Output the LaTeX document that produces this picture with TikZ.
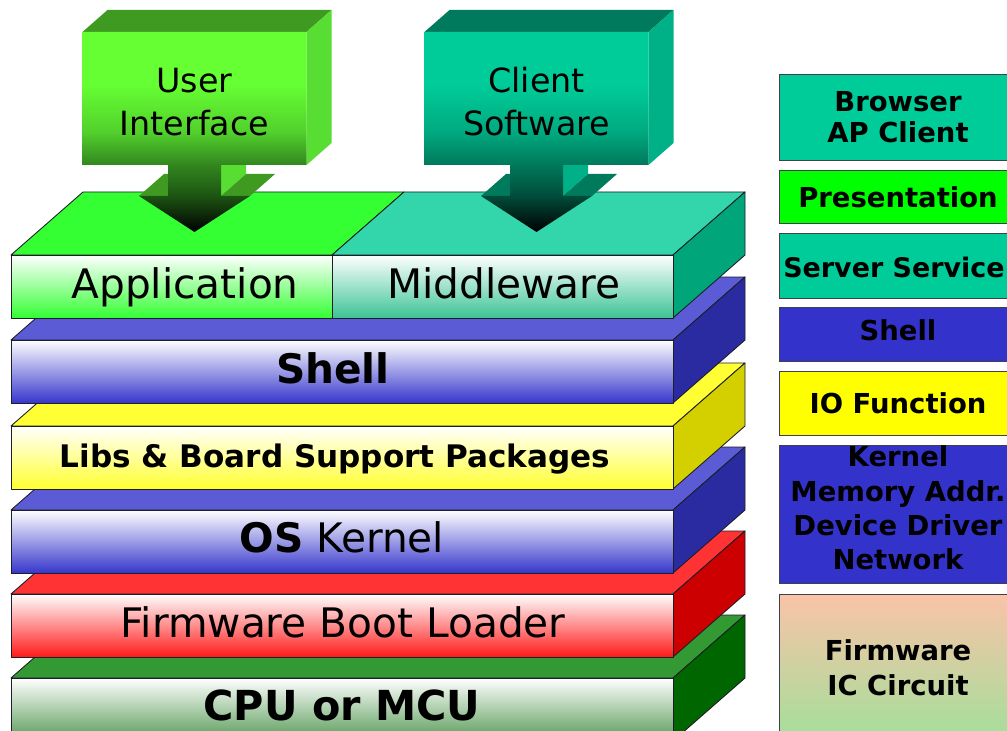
\documentclass[tikz,border=0pt]{standalone}
\usepackage{fontspec}
\setmainfont{DejaVu Sans}
\usetikzlibrary{calc}

% slab colours: top face, side face, front gradient end
\definecolor{edgecol}{HTML}{1E1E28}
\definecolor{appG}{HTML}{33FF33}
\definecolor{mwTop}{HTML}{33D6AA}
\definecolor{mwSide}{HTML}{00A67A}
\definecolor{mwFront}{HTML}{3CC495}
\definecolor{blTop}{HTML}{5B5BD6}
\definecolor{blSide}{HTML}{2B2BA1}
\definecolor{blFront}{HTML}{3636CC}
\definecolor{ylTop}{HTML}{FFFF33}
\definecolor{ylSide}{HTML}{D4D000}
\definecolor{ylFront}{HTML}{FFFF30}
\definecolor{rdTop}{HTML}{FF3333}
\definecolor{rdSide}{HTML}{CC0000}
\definecolor{rdFront}{HTML}{FF1A1A}
\definecolor{gnTop}{HTML}{339933}
\definecolor{gnSide}{HTML}{006600}
\definecolor{gnFront}{HTML}{569A56}

% drop-block colours
\definecolor{uiA}{HTML}{66FF33}
\definecolor{uiB}{HTML}{52D02C}
\definecolor{uiC}{HTML}{33881F}
\definecolor{uiD}{HTML}{1C5412}
\definecolor{uiTop}{HTML}{3F9A22}
\definecolor{uiSide}{HTML}{58DD33}
\definecolor{csA}{HTML}{00CC99}
\definecolor{csB}{HTML}{00AA80}
\definecolor{csC}{HTML}{007A5C}
\definecolor{csD}{HTML}{004C3A}
\definecolor{csTop}{HTML}{007A5C}
\definecolor{csSide}{HTML}{00B086}

% legend colours
\definecolor{lgTeal}{HTML}{00CC99}
\definecolor{lgGreen}{HTML}{00FF00}
\definecolor{lgBlue}{HTML}{3333CC}
\definecolor{lgYellow}{HTML}{FFFF00}
\definecolor{lgPeach}{HTML}{FAC3A8}
\definecolor{lgMint}{HTML}{A0E09A}

\pgfdeclareverticalshading{uidrop}{100bp}{color(0bp)=(black); color(25bp)=(black);
  color(34bp)=(uiD); color(42bp)=(uiC); color(50bp)=(uiB); color(62bp)=(uiA); color(100bp)=(uiA)}
\pgfdeclareverticalshading{csdrop}{100bp}{color(0bp)=(black); color(25bp)=(black);
  color(34bp)=(csD); color(42bp)=(csC); color(50bp)=(csB); color(62bp)=(csA); color(100bp)=(csA)}

% one layer of the stack: #1 front top, #2 top face, #3 side face, #4 front colour
\newcommand\slab[4]{%
  \filldraw[face, fill=#2] (11,#1) -- (83,#1-63) -- (745,#1-63) -- (673,#1) -- cycle;
  \filldraw[face, fill=#3] (673,#1) -- (745,#1-63) -- (745,#1) -- (673,#1+63) -- cycle;
  \draw[face, top color=white, middle color=#4!30!white, bottom color=#4] (11,#1) rectangle (673,#1+63);
}

% block with a downward arrow: #1 left edge, #2 top face, #3 side face, #4 front shading
\newcommand\dropblock[4]{%
  \fill[#3] (#1+138.5,165) -- (#1+163.5,143) -- (#1+163.5,174) -- (#1+138.5,196) -- cycle;
  \fill[#2] (#1+56.5,196) -- (#1+85.5,196) -- (#1+110.5,174) -- (#1+81.5,174) -- cycle;
  \fill[#2] (#1+138.5,196) -- (#1+167.5,196) -- (#1+192.5,174) -- (#1+163.5,174) -- cycle;
  \fill[#2] (#1,32) -- (#1+25,10) -- (#1+249,10) -- (#1+224,32) -- cycle;
  \fill[#3] (#1+224,32) -- (#1+249,10) -- (#1+249,143) -- (#1+224,165) -- cycle;
  \path[shading=#4] (#1,32) -- (#1+224,32) -- (#1+224,165) -- (#1+138.5,165) -- (#1+138.5,196)
     -- (#1+167.5,196) -- (#1+112,232) -- (#1+56.5,196) -- (#1+85.5,196) -- (#1+85.5,165)
     -- (#1,165) -- cycle;
}

\begin{document}
\begin{tikzpicture}[x=0.75pt, y=-0.75pt,
  face/.style={draw=edgecol, line width=0.65pt, line join=round},
  legendbox/.style={draw=edgecol!85, line width=0.65pt},
  layertext/.style={anchor=base, inner sep=0pt, font=\fontsize{30.5}{36}\selectfont},
  layerbold/.style={anchor=base, inner sep=0pt, font=\bfseries\fontsize{30.5}{36}\selectfont},
  droptext/.style={align=center, inner sep=0pt, font=\fontsize{25}{32.25}\selectfont},
  legtext/.style={align=center, inner sep=0pt, font=\bfseries\fontsize{20.6}{25.7}\selectfont}]

\useasboundingbox (0,0) rectangle (1007,731);
\clip (0,0) rectangle (1007,731);
\fill[white] (0,0) rectangle (1007,731);

% the layer stack, bottom first
\slab{678}{gnTop}{gnSide}{gnFront}
\slab{594}{rdTop}{rdSide}{rdFront}
\slab{510}{blTop}{blSide}{blFront}
\slab{426}{ylTop}{ylSide}{ylFront}
\slab{340}{blTop}{blSide}{blFront}

% application / middleware layer
\filldraw[face, fill=appG] (11,255) -- (83,192) -- (404,192) -- (332,255) -- cycle;
\filldraw[face, fill=mwTop] (332,255) -- (404,192) -- (745,192) -- (673,255) -- cycle;
\filldraw[face, fill=mwSide] (673,255) -- (745,192) -- (745,255) -- (673,318) -- cycle;
\draw[face, top color=white, middle color=appG!30!white, bottom color=appG] (11,255) rectangle (332,318);
\draw[face, top color=white, middle color=mwFront!30!white, bottom color=mwFront] (332,255) rectangle (673,318);

% layer labels
\node[layertext] (app) at (185,298) {Application};
\node[layertext] (mw) at (504,298) {Middleware};
\node[layerbold] (shell) at (333,383) {Shell};
\node[anchor=base, inner sep=0pt, font=\bfseries\fontsize{23.3}{28}\selectfont] (libs) at (335,467) {Libs \& Board Support Packages};
\node[layertext] (os) at (342,552) {\textbf{OS} Kernel};
\node[layertext] (boot) at (343,637) {Firmware Boot Loader};
\node[layerbold, font=\bfseries\fontsize{31}{36}\selectfont] (cpu) at (342,720) {CPU or MCU};

% the two blocks dropping into the top layer
\dropblock{82.5}{uiTop}{uiSide}{uidrop}
\dropblock{424.5}{csTop}{csSide}{csdrop}
\node[droptext] (ui) at (194.5,102.5) {User\\Interface};
\node[droptext] (cs) at (536.5,101.5) {Client\\Software};

% legend column
\filldraw[legendbox, fill=lgTeal] (779,74) rectangle (1020,160);
\filldraw[legendbox, fill=lgGreen] (779,170) rectangle (1020,223);
\filldraw[legendbox, fill=lgTeal] (779,233) rectangle (1020,298);
\filldraw[legendbox, fill=lgBlue] (779,307) rectangle (1020,361);
\filldraw[legendbox, fill=lgYellow] (779,371) rectangle (1020,435);
\filldraw[legendbox, fill=lgBlue] (779,445) rectangle (1020,583);
\draw[legendbox, top color=lgPeach, bottom color=lgMint] (779,594) rectangle (1020,745);

\node[legtext, font=\bfseries\fontsize{20.6}{23.3}\selectfont] (lbrowser) at (898,117.5) {Browser\\AP Client};
\node[legtext] (lpres) at (898,197) {Presentation};
\node[legtext, font=\bfseries\fontsize{20.2}{25}\selectfont] (lserver) at (894,267) {Server Service};
\node[legtext] (lshell) at (898,330) {Shell};
\node[legtext] (lio) at (898,403) {IO Function};
\node[legtext] (lkernel) at (898,508) {Kernel\\Memory Addr.\\Device Driver\\Network};
\node[legtext, font=\bfseries\fontsize{20.6}{26.25}\selectfont] (lfirm) at (898,667.5) {Firmware\\IC Circuit};
\end{tikzpicture}
\end{document}
